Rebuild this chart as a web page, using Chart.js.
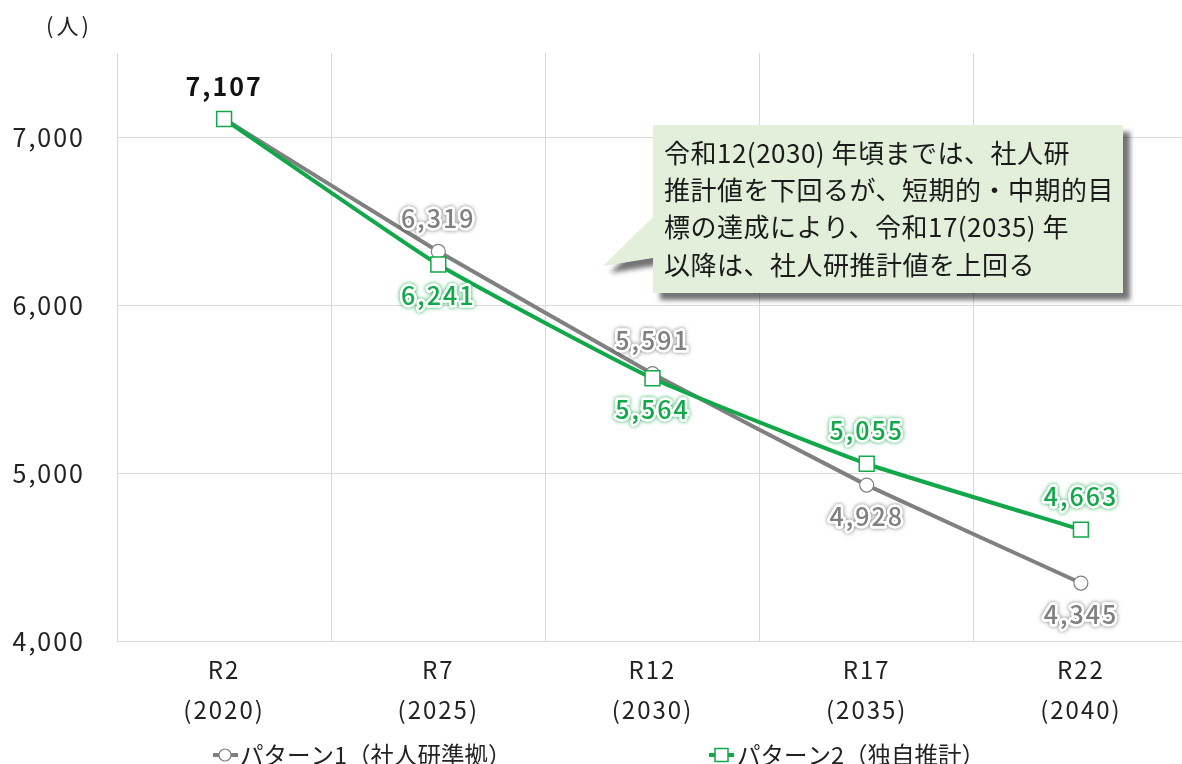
<!DOCTYPE html>
<html lang="ja">
<head>
<meta charset="utf-8">
<title>職員数の推計</title>
<script src="https://cdn.jsdelivr.net/npm/chart.js@4/dist/chart.umd.min.js"></script>
<style>
  html, body { margin: 0; padding: 0; background: #fff; }
</style>
</head>
<body>
<canvas id="myChart" width="1182" height="764"></canvas>
<script>
"use strict";

// 年次（和暦・西暦）
const categories = [
  ["R2", "(2020)"],
  ["R7", "(2025)"],
  ["R12", "(2030)"],
  ["R17", "(2035)"],
  ["R22", "(2040)"]
];
const seriesNames = ["パターン1（社人研準拠）", "パターン2（独自推計）"];
const pattern1 = [7107, 6319, 5591, 4928, 4345];
const pattern2 = [7107, 6241, 5564, 5055, 4663];
const yTicks = [4000, 5000, 6000, 7000];
const unitLabel = "(人)";
const noteLines = [
  "令和12(2030) 年頃までは、社人研",
  "推計値を下回るが、短期的・中期的目",
  "標の達成により、令和17(2035) 年",
  "以降は、社人研推計値を上回る"
];

const GRAY = "#808080";
const GREEN = "#12a84a";
const FONT = "'Noto Sans CJK JP', 'Noto Sans', sans-serif";

// ラベルの上下位置（系列ごと）
const placement = [
  ["top", "top", "top", "bottom", "bottom"],
  ["top", "bottom", "bottom", "top", "top"]
];

const fmt = v => v.toLocaleString("en-US");

function haloText(ctx, text, x, y, fill, glow) {
  ctx.save();
  ctx.lineJoin = "round";
  ctx.strokeStyle = "#fff";
  ctx.lineWidth = 5;
  ctx.shadowColor = glow;
  ctx.shadowBlur = 4;
  ctx.strokeText(text, x, y);
  ctx.shadowColor = "transparent";
  ctx.strokeText(text, x, y);
  ctx.fillStyle = fill;
  ctx.fillText(text, x, y);
  ctx.restore();
}

const decor = {
  id: "decor",
  // プロット領域を右端の少し外まで広げる
  afterLayout(chart) {
    const x = chart.scales.x;
    const right = chart.width + 6;
    chart.chartArea.right = right;
    chart.chartArea.width = right - chart.chartArea.left;
    x.right = right;
    x.width = right - x.left;
    x.configure();
  },
  beforeDraw(chart) {
    const ctx = chart.ctx;
    ctx.save();
    ctx.fillStyle = "#fff";
    ctx.fillRect(0, 0, chart.width, chart.height);
    ctx.restore();
    ctx.letterSpacing = "2px";
  },
  afterDatasetsDraw(chart) {
    const ctx = chart.ctx;
    ctx.save();
    ctx.textAlign = "center";
    ctx.textBaseline = "middle";
    ctx.letterSpacing = "2px";
    chart.data.datasets.forEach((ds, di) => {
      const meta = chart.getDatasetMeta(di);
      meta.data.forEach((pt, i) => {
        const dy = placement[di][i] === "top" ? -33 : 31;
        if (i === 0) {
          if (di !== 0) return;
          ctx.font = "bold 25px " + FONT;
          ctx.fillStyle = "#111";
          ctx.fillText(fmt(ds.data[i]), pt.x, pt.y + dy);
          return;
        }
        ctx.font = "500 25px " + FONT;
        if (di === 0) {
          haloText(ctx, fmt(ds.data[i]), pt.x, pt.y + dy, GRAY, "rgba(0,0,0,0.55)");
        } else {
          haloText(ctx, fmt(ds.data[i]), pt.x, pt.y + dy, GREEN, GREEN);
        }
      });
    });
    ctx.restore();
  },
  afterDraw(chart) {
    const ctx = chart.ctx;
    ctx.save();

    // 単位
    ctx.letterSpacing = "3px";
    ctx.fillStyle = "#222";
    ctx.font = "22px " + FONT;
    ctx.textAlign = "center";
    ctx.textBaseline = "middle";
    ctx.fillText(unitLabel, 69, 26);

    // 吹き出し
    const bx = 653, by = 125, bw = 470, bh = 168;
    ctx.save();
    ctx.shadowColor = "rgba(0,0,0,0.55)";
    ctx.shadowBlur = 5;
    ctx.shadowOffsetX = 7;
    ctx.shadowOffsetY = 7;
    ctx.fillStyle = "#e2efda";
    ctx.beginPath();
    ctx.moveTo(bx, by);
    ctx.lineTo(bx + bw, by);
    ctx.lineTo(bx + bw, by + bh);
    ctx.lineTo(bx, by + bh);
    ctx.lineTo(bx, 258);
    ctx.lineTo(603, 266);
    ctx.lineTo(bx, 217);
    ctx.closePath();
    ctx.fill();
    ctx.restore();

    ctx.letterSpacing = "0.5px";
    ctx.fillStyle = "#1a1a1a";
    ctx.font = "26px " + FONT;
    ctx.textAlign = "left";
    ctx.textBaseline = "middle";
    noteLines.forEach((line, i) => {
      ctx.fillText(line, 664, 153 + i * 37.3);
    });

    // 凡例
    ctx.letterSpacing = "0px";
    const ly = 755;
    ctx.font = "23.5px " + FONT;
    ctx.lineWidth = 4;

    ctx.strokeStyle = GRAY;
    ctx.beginPath(); ctx.moveTo(213, ly); ctx.lineTo(238, ly); ctx.stroke();
    ctx.beginPath(); ctx.arc(225, ly, 6, 0, Math.PI * 2);
    ctx.fillStyle = "#fff"; ctx.fill();
    ctx.lineWidth = 1.2; ctx.stroke();
    ctx.fillStyle = "#222";
    ctx.fillText(seriesNames[0], 240, ly);

    ctx.lineWidth = 4;
    ctx.strokeStyle = GREEN;
    ctx.beginPath(); ctx.moveTo(709, ly); ctx.lineTo(734, ly); ctx.stroke();
    ctx.fillStyle = "#fff";
    ctx.fillRect(715, ly - 6.5, 13, 13);
    ctx.lineWidth = 1.5;
    ctx.strokeRect(715, ly - 6.5, 13, 13);
    ctx.fillStyle = "#222";
    ctx.fillText(seriesNames[1], 737, ly);

    ctx.restore();
  }
};

const ctx = document.getElementById("myChart");

const myChart = new Chart(ctx, {
  type: "line",
  data: {
    labels: categories,
    datasets: [
      {
        label: seriesNames[0],
        data: pattern1,
        borderColor: GRAY,
        borderWidth: 4,
        tension: 0.08,
        pointStyle: "circle",
        pointRadius: 7,
        pointBackgroundColor: "#fff",
        pointBorderColor: GRAY,
        pointBorderWidth: 1.2,
        order: 1
      },
      {
        label: seriesNames[1],
        data: pattern2,
        borderColor: GREEN,
        borderWidth: 4,
        tension: 0.15,
        pointStyle: "rect",
        pointRadius: 10.5,
        pointBackgroundColor: "#fff",
        pointBorderColor: GREEN,
        pointBorderWidth: 1.5,
        order: 0
      }
    ]
  },
  options: {
    responsive: false,
    animation: false,
    events: [],
    layout: {
      padding: { top: 53, left: 0, right: 0, bottom: 0 }
    },
    plugins: {
      legend: { display: false },
      tooltip: { enabled: false }
    },
    scales: {
      x: {
        offset: true,
        border: { display: false },
        grid: { color: "#d9d9d9", offset: true, drawTicks: false },
        ticks: {
          color: "#222",
          padding: 9,
          font: { family: FONT, size: 24, lineHeight: 1.67 },
          maxRotation: 0,
          autoSkip: false
        },
        afterFit(scale) {
          scale.height = 123;
        }
      },
      y: {
        min: 4000,
        max: 7500,
        border: { display: false },
        grid: { color: "#d9d9d9", drawTicks: false },
        afterBuildTicks(scale) {
          scale.ticks = yTicks.map(v => ({ value: v }));
        },
        ticks: {
          color: "#222",
          padding: 32,
          font: { family: FONT, size: 25 },
          callback: v => fmt(v)
        },
        afterFit(scale) {
          scale.width = 117;
        }
      }
    }
  },
  plugins: [decor]
});
</script>
</body>
</html>
